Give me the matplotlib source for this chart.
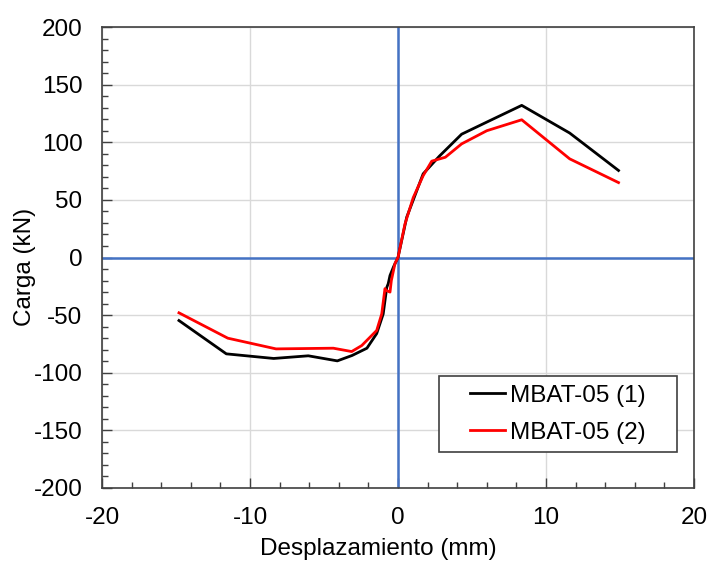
import matplotlib
matplotlib.use("Agg")
import matplotlib.pyplot as plt
from matplotlib.patches import Rectangle
from matplotlib.ticker import MultipleLocator

plt.rcParams["font.family"] = ["Liberation Sans", "DejaVu Sans"]
plt.rcParams["axes.unicode_minus"] = False

# MBAT-05 (1)
x1 = [-14.8, -11.6, -8.4, -6.06, -4.1, -3.1, -2.1, -1.44, -1.0, -0.76, -0.66, -0.54, -0.3, 0.0,
      0.59, 1.7, 2.8, 4.3, 6.0, 8.36, 11.6, 14.9]
y1 = [-54.7, -83.6, -87.6, -85.3, -89.7, -85.0, -78.7, -66.0, -49.0, -26.0, -22.7, -15.6, -8.0, 0.0,
      35.0, 72.6, 88.0, 107.0, 117.5, 132.0, 108.0, 75.5]

# MBAT-05 (2)
x2 = [-14.8, -11.5, -8.24, -4.37, -3.13, -2.45, -1.44, -1.1, -0.88, -0.81, -0.54, -0.45, -0.2, 0.0,
      0.47, 1.03, 1.7, 2.28, 3.2, 4.3, 6.0, 8.36, 11.6, 14.9]
y2 = [-48.0, -70.0, -79.3, -78.7, -81.6, -76.4, -63.3, -49.0, -27.0, -28.6, -30.0, -20.0, -5.0, 0.0,
      29.0, 52.0, 71.0, 83.6, 87.0, 98.6, 110.0, 119.5, 85.6, 65.0]

labels = ["MBAT-05 (1)", "MBAT-05 (2)"]

fig = plt.figure(figsize=(7.1, 5.63), dpi=100)
ax = fig.add_axes([102 / 710, 75 / 563, 592 / 710, 461 / 563])

ax.grid(True, which="major", color="#d9d9d9", linewidth=1.0, zorder=0)
ax.axhline(0, color="#4472c4", linewidth=1.8, zorder=2)
ax.axvline(0, color="#4472c4", linewidth=1.8, zorder=2)

ax.plot(x1, y1, color="black", linewidth=2.0, label=labels[0], zorder=3)
ax.plot(x2, y2, color="#ff0000", linewidth=2.0, label=labels[1], zorder=4)

ax.set_xlim(-20, 20)
ax.set_ylim(-200, 200)
ax.xaxis.set_major_locator(MultipleLocator(10))
ax.xaxis.set_minor_locator(MultipleLocator(2))
ax.yaxis.set_major_locator(MultipleLocator(50))
ax.yaxis.set_minor_locator(MultipleLocator(10))
ax.tick_params(which="both", direction="in", labelsize=17.5, pad=14, colors="#404040",
               labelcolor="black")
ax.tick_params(which="major", length=7, width=1.0)
ax.tick_params(which="minor", length=4, width=1.0)

for s in ax.spines.values():
    s.set_color("#404040")
    s.set_linewidth(1.2)

ax.set_xlabel("Desplazamiento (mm)", fontsize=17.5)
ax.set_ylabel("Carga (kN)", fontsize=17.5)
ax.xaxis.set_label_coords(0.466, -0.108)
ax.yaxis.set_label_coords(-0.111, 0.48)

# legend frame drawn separately so the inner padding matches
box = Rectangle((0.569, 0.078), 0.402, 0.165, transform=ax.transAxes, facecolor="white",
                edgecolor="#404040", linewidth=1.2, zorder=5)
ax.add_patch(box)
leg = ax.legend(loc="center left", bbox_to_anchor=(0.622, 0.160), fontsize=17.5,
                frameon=False, handlelength=1.45, borderpad=0, borderaxespad=0,
                handletextpad=0.2, labelspacing=0.6)
leg.set_zorder(6)

fig.savefig("out.png", dpi=100)
